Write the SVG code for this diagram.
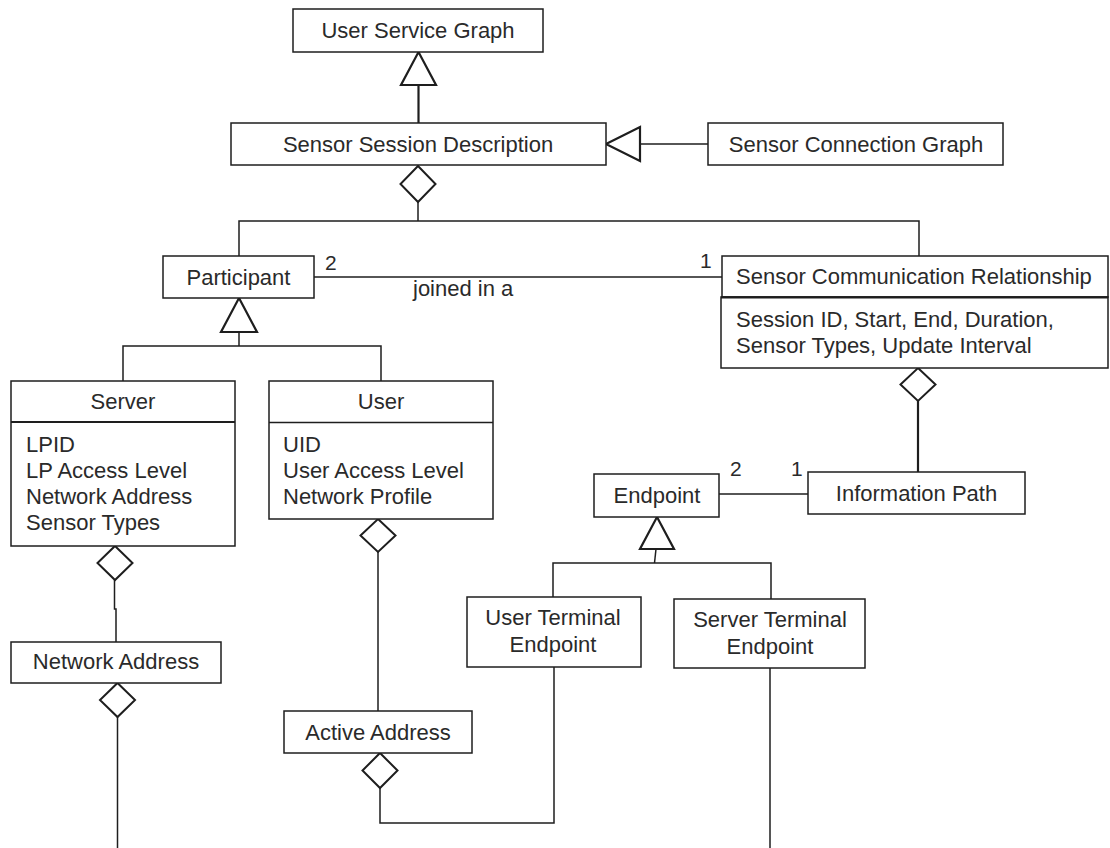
<svg xmlns="http://www.w3.org/2000/svg" width="1110" height="848" viewBox="0 0 1110 848">
  <style>
    .box { fill: #ffffff; stroke: #1e1e1e; stroke-width: 1.5; }
    .sep { stroke: #1e1e1e; stroke-width: 2.2; fill: none; }
    .thin { stroke: #1e1e1e; stroke-width: 1.3; fill: none; }
    .line { stroke: #1e1e1e; stroke-width: 1.5; fill: none; }
    .thick { stroke: #1e1e1e; stroke-width: 2.2; fill: none; }
    .tri { fill: #ffffff; stroke: #1e1e1e; stroke-width: 2.2; stroke-linejoin: miter; }
    .dia { fill: #ffffff; stroke: #1e1e1e; stroke-width: 2; stroke-linejoin: miter; }
    text { font-family: "Liberation Sans", Arial, sans-serif; font-size: 22px; fill: #2a2a2a; }
    .c { text-anchor: middle; }
    .mult { font-size: 21px; }
  </style>

  <!-- connectors -->
  <g id="connectors">
    <!-- Sensor Session Description generalizes User Service Graph -->
    <line class="thick" x1="418.5" y1="123" x2="418.5" y2="85"/>
    <polygon class="tri" points="418.5,52 436,85 401,85"/>

    <!-- Sensor Connection Graph generalizes Sensor Session Description -->
    <line class="line" x1="708" y1="144" x2="640" y2="144"/>
    <polygon class="tri" points="606,144 640,127 640,161"/>

    <!-- Sensor Session Description aggregates Participant and SCR -->
    <polygon class="dia" points="418,166 435.5,184 418,202 400.5,184"/>
    <polyline class="line" points="418,202 418,221"/>
    <polyline class="line" points="239,256 239,221 919,221 919,256"/>

    <!-- Participant joined in a Sensor Communication Relationship -->
    <line class="line" x1="314" y1="277" x2="722" y2="277"/>
    <text class="mult" x="325" y="270">2</text>
    <text class="mult" x="700" y="268">1</text>
    <text x="413" y="296">joined in a</text>

    <!-- Server / User generalize Participant -->
    <polygon class="tri" points="239,298 257,332 221,332"/>
    <line class="line" x1="239" y1="332" x2="239" y2="346"/>
    <polyline class="line" points="123,381 123,346 381,346 381,381"/>

    <!-- SCR aggregates Information Path -->
    <polygon class="dia" points="918,368 935.5,384.5 918,401 900.5,384.5"/>
    <line class="thick" x1="918" y1="401" x2="918" y2="472"/>

    <!-- Endpoint to Information Path -->
    <line class="line" x1="719" y1="494" x2="808" y2="494" stroke-width="2.6"/>
    <text class="mult" x="730" y="476">2</text>
    <text class="mult" x="791" y="476">1</text>

    <!-- Terminal endpoints generalize Endpoint -->
    <polygon class="tri" points="657,517 674,549 640,549"/>
    <line class="line" x1="656" y1="549" x2="654.5" y2="563"/>
    <polyline class="line" points="553,597 553,563 771,563 771,599"/>

    <!-- Server aggregates Network Address -->
    <polygon class="dia" points="115,546 132.5,563 115,580 97.5,563"/>
    <polyline class="line" points="114.5,580 114.5,609 116,609 116,642"/>

    <!-- Network Address aggregation continues downward -->
    <polygon class="dia" points="117.5,683 135,700 117.5,717 100,700"/>
    <line class="line" x1="117.5" y1="717" x2="117.5" y2="848"/>

    <!-- User aggregates Active Address -->
    <polygon class="dia" points="378,519 395.5,535.5 378,552 360.5,535.5"/>
    <line class="line" x1="378" y1="552" x2="378" y2="711"/>

    <!-- Active Address linked to User Terminal Endpoint -->
    <polygon class="dia" points="380,753 397.5,770.5 380,788 362.5,770.5"/>
    <polyline class="line" points="380,788 380,823 554,823 554,667"/>

    <!-- Server Terminal Endpoint continues downward -->
    <line class="line" x1="770" y1="668" x2="770" y2="848"/>
  </g>

  <g id="user-service-graph">
    <rect class="box" x="293" y="9" width="250" height="43"/>
    <text class="c" x="418" y="38">User Service Graph</text>
  </g>

  <g id="sensor-session-description">
    <rect class="box" x="231" y="123" width="375" height="42"/>
    <text class="c" x="418" y="152">Sensor Session Description</text>
  </g>

  <g id="sensor-connection-graph">
    <rect class="box" x="708" y="123" width="295" height="42"/>
    <text class="c" x="856" y="152">Sensor Connection Graph</text>
  </g>

  <g id="participant">
    <rect class="box" x="163" y="256" width="151" height="42"/>
    <text class="c" x="238.5" y="285">Participant</text>
  </g>

  <g id="sensor-communication-relationship">
    <rect class="box" x="722" y="256" width="386" height="41"/>
    <rect class="box" x="721" y="297" width="387" height="71"/>
    <line class="sep" x1="721" y1="297.5" x2="1108" y2="297.5"/>
    <text x="736" y="284">Sensor Communication Relationship</text>
    <text x="736" y="327">Session ID, Start, End, Duration,</text>
    <text x="736" y="353">Sensor Types, Update Interval</text>
  </g>

  <g id="server">
    <rect class="box" x="11" y="381" width="224" height="165"/>
    <line class="sep" x1="11" y1="422" x2="235" y2="422"/>
    <text class="c" x="123" y="409">Server</text>
    <text x="26" y="452">LPID</text>
    <text x="26" y="478">LP Access Level</text>
    <text x="26" y="504">Network Address</text>
    <text x="26" y="530">Sensor Types</text>
  </g>

  <g id="user">
    <rect class="box" x="269" y="381" width="224" height="138"/>
    <line class="thin" x1="269" y1="422.5" x2="493" y2="422.5"/>
    <text class="c" x="381" y="409">User</text>
    <text x="283" y="452">UID</text>
    <text x="283" y="478">User Access Level</text>
    <text x="283" y="504">Network Profile</text>
  </g>

  <g id="endpoint">
    <rect class="box" x="594" y="474" width="125" height="43"/>
    <text class="c" x="657" y="503">Endpoint</text>
  </g>

  <g id="information-path">
    <rect class="box" x="808" y="472" width="217" height="42"/>
    <text class="c" x="916.5" y="501">Information Path</text>
  </g>

  <g id="user-terminal-endpoint">
    <rect class="box" x="467" y="597" width="174" height="70"/>
    <text class="c" x="553" y="625">User Terminal</text>
    <text class="c" x="553" y="652">Endpoint</text>
  </g>

  <g id="server-terminal-endpoint">
    <rect class="box" x="674" y="599" width="191" height="69"/>
    <text class="c" x="770" y="627">Server Terminal</text>
    <text class="c" x="770" y="654">Endpoint</text>
  </g>

  <g id="network-address">
    <rect class="box" x="11" y="642" width="210" height="41"/>
    <text class="c" x="116" y="669">Network Address</text>
  </g>

  <g id="active-address">
    <rect class="box" x="284" y="711" width="188" height="42"/>
    <text class="c" x="378" y="740">Active Address</text>
  </g>
</svg>
